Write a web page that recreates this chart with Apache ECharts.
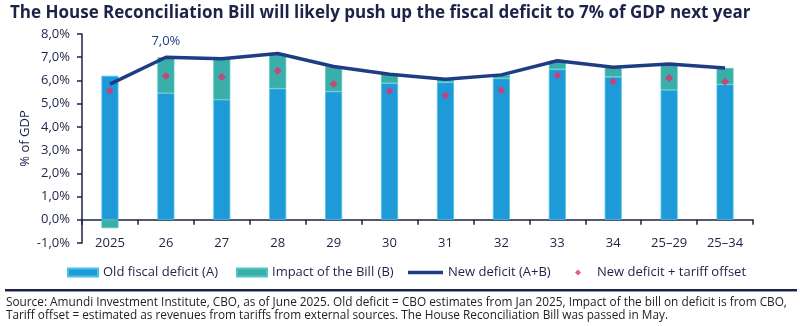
<!DOCTYPE html>
<html><head><meta charset="utf-8">
<script src="https://cdn.jsdelivr.net/npm/echarts@6/dist/echarts.min.js"></script>
<style>html,body{margin:0;padding:0;background:#fff}#c{width:800px;height:326px}</style>
</head><body><div id="c"></div>
<script>
var categories = ['2025','26','27','28','29','30','31','32','33','34','25\u201329','25\u201334'];
var oldDeficit = [6.2, 5.45, 5.17, 5.65, 5.52, 5.88, 5.92, 6.09, 6.48, 6.16, 5.59, 5.83];
var billImpact = [-0.36, 1.55, 1.76, 1.51, 1.08, 0.39, 0.13, 0.15, 0.37, 0.41, 1.12, 0.71];
var newDeficit = [5.84, 7.0, 6.93, 7.16, 6.6, 6.27, 6.05, 6.24, 6.85, 6.57, 6.71, 6.54];
var tariffOffset = [5.56, 6.19, 6.15, 6.42, 5.85, 5.55, 5.35, 5.58, 6.22, 5.95, 6.11, 5.94];
var yTicks = {min: -1, max: 8, interval: 1};

var navy = '#1c2248';
var font = 'Open Sans';
var chart = echarts.init(document.getElementById('c'));
function pct(v){ return v.toFixed(1).replace('.', ',') + '%'; }
var legendText = {fontSize: 13, color: navy, fontFamily: font};
chart.setOption({
  animation: false,
  textStyle: {fontFamily: font},
  title: [{
    text: 'The House Reconciliation Bill will likely push up the fiscal deficit to 7% of GDP next year',
    left: 5, top: 0,
    textStyle: {fontFamily: font, fontWeight: 'bold', fontSize: 17, color: navy}
  }, {
    text: 'Source: Amundi Investment Institute, CBO, as of June 2025. Old deficit = CBO estimates from Jan 2025, Impact of the bill on deficit is from CBO,\nTariff offset = estimated as revenues from tariffs from external sources. The House Reconciliation Bill was passed in May.',
    left: 6, top: 296.5, padding: 0,
    textStyle: {fontFamily: font, fontWeight: 'normal', fontSize: 11.8, lineHeight: 13, color: '#222'}
  }],
  graphic: [{type: 'rect', shape: {x: 5, y: 289, width: 792, height: 2.5}, style: {fill: navy}}],
  legend: [
    {data: ['Old fiscal deficit (A)'], icon: 'rect', left: 62, top: 261, itemWidth: 30, itemHeight: 8, textStyle: legendText},
    {data: ['Impact of the Bill (B)'], icon: 'rect', left: 231, top: 261, itemWidth: 30, itemHeight: 8, textStyle: legendText},
    {data: ['New deficit (A+B)'], icon: 'rect', left: 403, top: 261, itemWidth: 35, itemHeight: 3.5, textStyle: legendText},
    {data: ['New deficit + tariff offset'], icon: 'diamond', left: 570, top: 261, itemWidth: 6, itemHeight: 6,
      textStyle: {fontSize: 13, color: navy, fontFamily: font, padding: [0, 0, 0, 11]}}
  ],
  grid: {left: 82, right: 47, top: 34, bottom: 83},
  xAxis: {
    type: 'category', data: categories,
    axisLine: {onZero: true, lineStyle: {color: navy, width: 1.5}},
    axisTick: {show: true, length: 5, lineStyle: {color: navy, width: 1.5}},
    axisLabel: {color: navy, fontSize: 13, margin: -6, fontFamily: font}
  },
  yAxis: {
    type: 'value', min: yTicks.min, max: yTicks.max, interval: yTicks.interval,
    name: '% of GDP', nameLocation: 'middle', nameGap: 50, nameRotate: 90, nameMoveOverlap: false,
    nameTextStyle: {color: navy, fontSize: 13, fontFamily: font},
    axisLine: {show: true, lineStyle: {color: navy, width: 1.5}},
    axisTick: {show: true, length: 5, lineStyle: {color: navy, width: 1.5}},
    splitLine: {show: false},
    axisLabel: {color: navy, fontSize: 13, margin: 12, fontFamily: font, formatter: pct}
  },
  series: [{
    name: 'Old fiscal deficit (A)', type: 'bar', stack: 'd', data: oldDeficit, barWidth: 17,
    itemStyle: {color: '#1e9ad8', borderColor: '#49c1e8', borderWidth: 0.8}
  }, {
    name: 'Impact of the Bill (B)', type: 'bar', stack: 'd', data: billImpact, barWidth: 17,
    itemStyle: {color: '#3aaea8', borderColor: '#4fc6c0', borderWidth: 0.8}
  }, {
    name: 'New deficit (A+B)', type: 'line', data: newDeficit, symbol: 'none', z: 5,
    lineStyle: {color: '#1f3c85', width: 3.5}, itemStyle: {color: '#1f3c85'},
    label: {show: false},
    markPoint: {symbol: 'circle', symbolSize: 0, data: [{coord: [1, newDeficit[1]], value: pct(newDeficit[1])}],
      label: {show: true, position: 'top', distance: 9, color: '#1f3c85', fontSize: 13, fontFamily: font}}
  }, {
    name: 'New deficit + tariff offset', type: 'scatter', data: tariffOffset, symbol: 'diamond', symbolSize: 8, z: 6,
    itemStyle: {color: '#e5306a'}
  }]
});
</script></body></html>
